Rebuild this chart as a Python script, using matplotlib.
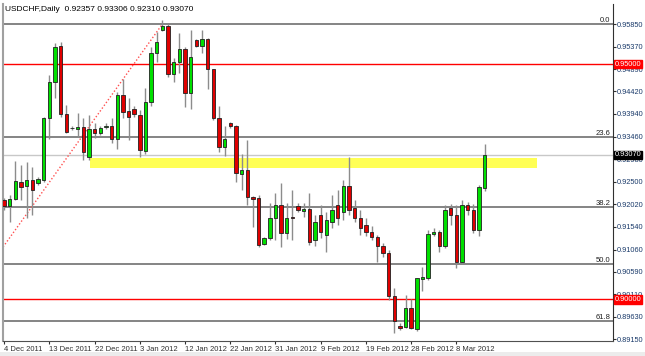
import matplotlib.pyplot as plt
import numpy as np
from matplotlib.patches import Rectangle

plt.rcParams['font.family'] = ['Liberation Sans', 'DejaVu Sans']

# daily USDCHF candles, 4 Dec 2011 .. 13 Mar 2012
opens = [.92112, .91985, .92133, .92494, .92409, .92537, .92473, .92537, .93854, .94618,
         .95383, .93939, .93641, .93620, .93663, .93025, .93620, .93535, .93663, .93684,
         .93408, .94342, .94002, .94045, .93917, .93153, .94194, .95234, .95723, .95808,
         .94788, .95043, .95319, .94385, .95510, .95383, .95532, .94894, .93854, .93238,
         .93748, .93684, .92664, .92749, .92176, .92155, .91177, .91305, .91730, .92006,
         .91411, .91751, .91985, .91878, .91921, .91262, .91793, .91369, .91645, .92006,
         .91857, .92409, .91943, .91730, .91581, .91432, .91326, .91135, .90986, .90073,
         .89436, .89414, .89818, .89372, .90443, .90455, .91390, .91432, .91135, .91943,
         .91793, .90795, .92006, .91900, .91475, .92357]
highs = [.92155, .92218, .92940, .92855, .92919, .92813, .92600, .93875, .94767, .95447,
         .95468, .94130, .93684, .93960, .93854, .93917, .93748, .93684, .93748, .93854,
         .94406, .94682, .94279, .94109, .94024, .94491, .95362, .95680, .95935, .95850,
         .95128, .95660, .95362, .95723, .95532, .95723, .95553, .94894, .94109, .93684,
         .93770, .93700, .93089, .93386, .92190, .92218, .91326, .92048, .92261, .92473,
         .92048, .92324, .92048, .92048, .92261, .91793, .92006, .91857, .92218, .92324,
         .92537, .93025, .92112, .91900, .91730, .91560, .91369, .91199, .91050, .90243,
         .89500, .90094, .90009, .90455, .90689, .91475, .91517, .91475, .92006, .92027,
         .92006, .92112, .92070, .92027, .92430, .93306]
lows = [.91900, .91645, .92112, .92112, .91730, .91793, .92430, .92494, .93408, .94279,
        .93875, .93535, .93600, .93450, .92962, .92962, .93429, .93493, .93620, .93323,
        .93195, .93854, .93386, .93875, .93025, .93089, .94109, .95043, .95700, .94725,
        .94618, .94810, .94087, .94045, .95362, .95234, .94470, .93810, .93132, .93047,
        .93641, .92494, .92324, .92006, .91539, .91114, .91156, .91262, .91262, .91114,
        .91284, .91262, .91860, .91751, .91156, .91135, .91305, .91008, .91517, .91581,
        .91687, .91793, .91645, .91369, .91347, .91262, .90795, .90901, .89988, .89287,
        .89351, .89393, .89372, .89330, .90179, .90413, .91347, .91008, .91093, .91581,
        .90668, .90752, .91793, .91411, .91347, .92310]
closes = [.91985, .92133, .92516, .92388, .92537, .92324, .92558, .93854, .94618, .95362,
          .93939, .93556, .93635, .93663, .93132, .93620, .93535, .93641, .93684, .93408,
          .94342, .93981, .93875, .93939, .93174, .94194, .95234, .95468, .95808, .94788,
          .95043, .95319, .94385, .95149, .95383, .95532, .94894, .93854, .93238, .93408,
          .93684, .92686, .92749, .92176, .92133, .91156, .91305, .91730, .92006, .91411,
          .91730, .91740, .91900, .91921, .91220, .91645, .91432, .91687, .91900, .91730,
          .92409, .91900, .91730, .91517, .91432, .91326, .91135, .90986, .90073, .89542,
          .89393, .89818, .89393, .90455, .90476, .91390, .91432, .91135, .91900, .91793,
          .90795, .92006, .91900, .91475, .92388, .93070]

date_labels = ['4 Dec 2011', '13 Dec 2011', '22 Dec 2011', '3 Jan 2012', '12 Jan 2012',
               '22 Jan 2012', '31 Jan 2012', '9 Feb 2012', '19 Feb 2012', '28 Feb 2012',
               '8 Mar 2012']
date_idx = [0, 8, 16, 24, 32, 40, 48, 56, 64, 72, 80]

price_ticks = [0.95850, 0.95370, 0.94890, 0.94420, 0.93940, 0.93460, 0.92980, 0.92500,
               0.92020, 0.91540, 0.91060, 0.90590, 0.90110, 0.89630, 0.89150]

fib_high, fib_low = 0.9585, 0.8565
fib_levels = [0.0, 23.6, 38.2, 50.0, 61.8]
fib_start, fib_end = -32.7, 28
red_levels = [0.95, 0.90]
zone_lo, zone_hi = 0.9280, 0.9300
zone_x = [15.2, 94.3]
last_price = 0.93070

fig = plt.figure(figsize=(6.45, 3.56), dpi=100)
fig.patch.set_facecolor('white')
ax = fig.add_axes([3/645, 15/356, 610/645, 337/356])
ax.set_xlim(-0.2, 107.7)
ax.set_ylim(0.89117, 0.96275)

o = np.array(opens); h = np.array(highs); l = np.array(lows); c = np.array(closes)
x = np.arange(len(o))

# support / resistance zone
ax.fill_between(zone_x, zone_lo, zone_hi, color='#ffff55', lw=0, zorder=1)

# fibonacci retracement
for lv in fib_levels:
    p = fib_high - lv / 100 * (fib_high - fib_low)
    ax.axhline(p, color='#707070', lw=1.2, zorder=1)
    ax.text(107.2, p, '%.1f' % lv, ha='right', va='bottom', fontsize=5.5, color='#202020')
ax.plot([fib_start, fib_end], [fib_low, fib_high], color='#ff5050', ls=(0, (1, 1.5)), lw=1, zorder=2)

for lv in red_levels:
    ax.axhline(lv, color='red', lw=1, zorder=1)
ax.axhline(last_price, color='#c8c8c8', lw=1, zorder=1)

# candles
up = c >= o
ax.vlines(x, l, h, color='#8c8c8c', lw=1, zorder=3)
body = np.maximum(np.abs(c - o), 0.00006)
ax.bar(x[up], body[up], bottom=np.minimum(o, c)[up], width=0.6, color='#00e000',
       edgecolor='#202020', lw=0.6, zorder=4)
ax.bar(x[~up], body[~up], bottom=np.minimum(o, c)[~up], width=0.6, color='#e00000',
       edgecolor='#202020', lw=0.6, zorder=4)

# axes styling
ax.yaxis.tick_right()
ax.set_yticks(price_ticks)
ax.set_yticklabels(['%.5f' % t for t in price_ticks])
ax.set_xticks(date_idx)
ax.set_xticklabels(date_labels, ha='left')
ax.tick_params(axis='both', labelsize=5.5, length=2.5, width=0.8, colors='#303030', pad=1)
ax.tick_params(axis='y', labelsize=5.3, length=2, pad=0.8, labelcolor='#1a3a6a')
ax.spines['top'].set_visible(False)
ax.spines['left'].set_color('#a0a0a0')
ax.spines['left'].set_linewidth(1.5)
ax.spines['bottom'].set_color('#505050')
ax.spines['right'].set_color('#303030')

# price boxes on the right axis
yt = ax.get_yaxis_transform()
for lv in red_levels:
    ax.text(1.003, lv, '%.5f' % lv, transform=yt, ha='left', va='center', fontsize=5.3,
            color='white', zorder=10, clip_on=False,
            bbox=dict(boxstyle='square,pad=0.12', fc='red', ec='red'))
ax.text(1.003, last_price, '%.5f' % last_price, transform=yt, ha='left', va='center', fontsize=5.3,
        color='white', zorder=10, clip_on=False,
        bbox=dict(boxstyle='square,pad=0.12', fc='black', ec='black'))

ax.text(0.004, 0.995, 'USDCHF,Daily  %.5f %.5f %.5f %.5f' % (opens[-1], highs[-1], lows[-1], closes[-1]),
        transform=ax.transAxes, ha='left', va='top', fontsize=6, color='black')

fig.add_artist(Rectangle((0, 0), 1, 4/356, transform=fig.transFigure, color='#ececec', lw=0))

fig.savefig('out.png', dpi=100)
